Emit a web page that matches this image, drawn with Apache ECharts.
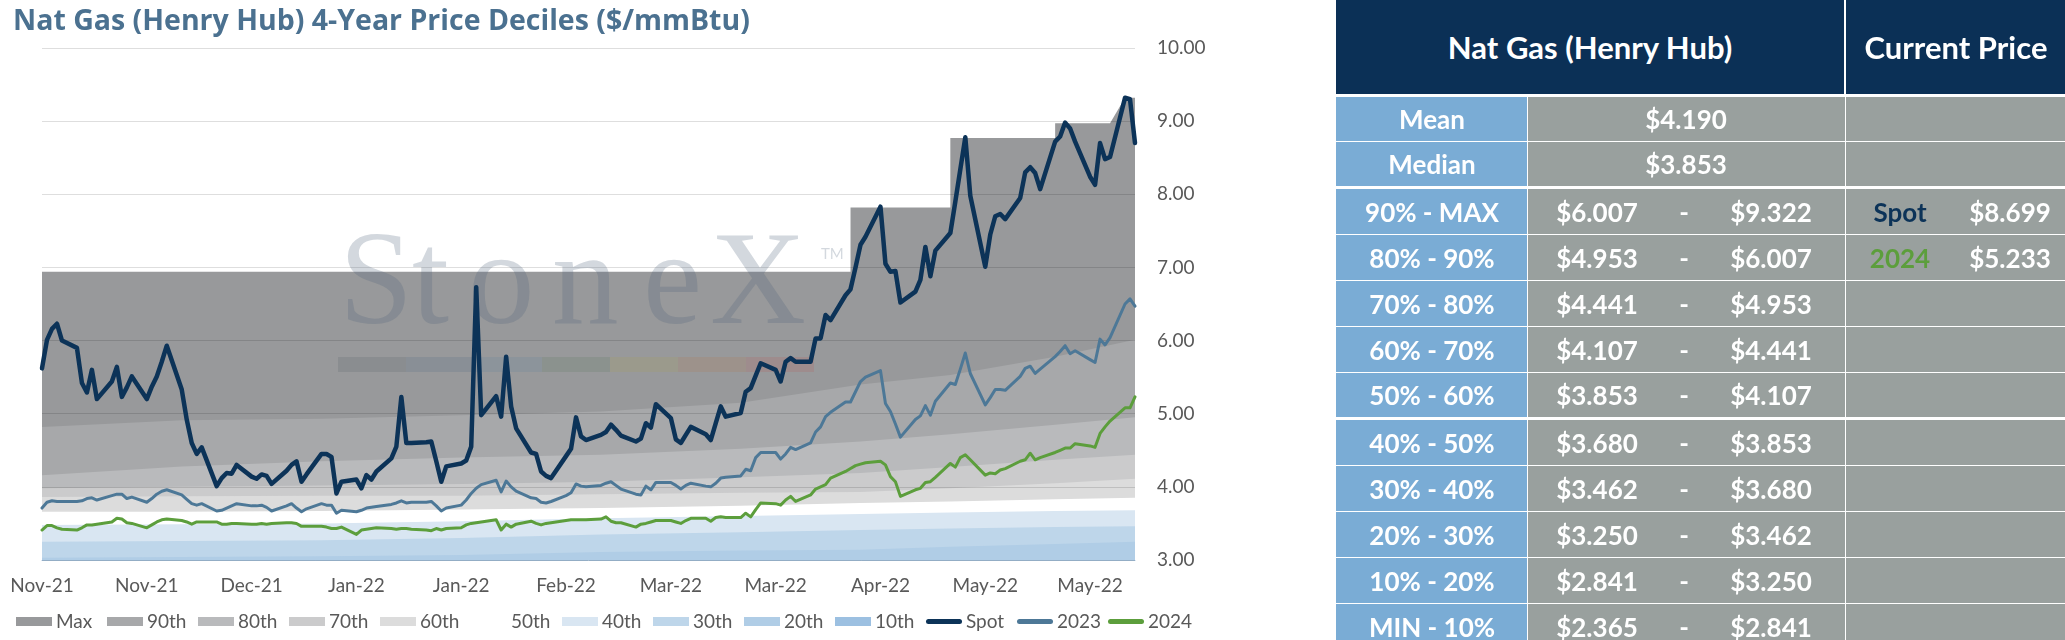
<!DOCTYPE html>
<html lang="en">
<head>
    <meta charset="UTF-8">
    <title>Nat Gas (Henry Hub) 4-Year Price Deciles</title>
    <style>
        *{
            padding: 0;
            margin: 0;
            box-sizing: border-box;
        }
        body{
            width: 2065px;
            height: 640px;
            background: #fff;
            overflow: hidden;
            font-family: Lato, "Open Sans", sans-serif;
        }
        #main{
            position: absolute;
            left: 0;
            top: 0;
            width: 2065px;
            height: 640px;
        }
        #tbl{
            position: absolute;
            left: 1336px;
            top: 0;
            width: 729px;
            height: 640px;
            overflow: hidden;
        }
        .cell{
            position: absolute;
            color: #fff;
        }
        .cell span{
            position: absolute;
            top: 50%;
            transform: translate(-50%, -50%);
            white-space: nowrap;
        }
        .head{
            background: #0b3056;
            font-size: 31px;
            font-weight: bold;
        }
        .lab{
            background: #7aacd5;
            font-size: 26px;
            font-weight: bold;
        }
        .val{
            background: #99a09e;
            font-size: 26px;
            font-weight: bold;
        }
    </style>
</head>
<body>
<div id="main"></div>
<div id="tbl"></div>
<script src="https://cdn.jsdelivr.net/npm/echarts@6/dist/echarts.min.js"></script>
<script type="text/javascript">
    // ---- data ----
    var xLabels = ['Nov-21', 'Nov-21', 'Dec-21', 'Jan-22', 'Jan-22', 'Feb-22', 'Mar-22', 'Mar-22', 'Apr-22', 'May-22', 'May-22'];
    var labelStep = 21;      // days between axis labels
    var lastDay = 219;       // 1 Nov 2021 -> 8 Jun 2022

    // daily closes, Mon-Fri only
    var spot = [
        5.62, 6.01, 6.16, 6.23, 6.00,  5.90, 5.42, 5.29, 5.60, 5.20,  5.44, 5.64, 5.23, 5.36, 5.51,
        5.20, 5.37, 5.51, 5.71, 5.93,  5.33, 4.92, 4.60, 4.45, 4.54,  4.01, 4.12, 4.19, 4.18, 4.30,
        4.14, 4.11, 4.17, 4.15, 4.04,  4.22, 4.30, 4.35, 4.07, 4.17,  4.45, 4.45, 4.41, 3.91, 4.07,
        4.10, 3.98, 4.16, 4.10, 4.21,  4.39, 4.55, 5.23, 4.60, 4.60,  4.61, 4.62, 4.35, 4.07, 4.28,
        4.32, 4.36, 4.55, 6.73, 4.98,  5.24, 4.96, 5.78, 5.10, 4.80,  4.47, 4.45, 4.21, 4.15, 4.12,
        4.42, 4.52, 4.95, 4.69, 4.64,  4.71, 4.75, 4.85, 4.78, 4.70,  4.62, 4.66, 4.87, 4.81, 5.13,
        4.94, 4.65, 4.60, 4.71, 4.82,  4.72, 4.64, 4.87, 5.10, 4.96,  5.01, 5.30, 5.35, 5.52, 5.69,
        5.60, 5.44, 5.71, 5.76, 5.71,  5.71, 6.03, 6.03, 6.35, 6.28,  6.62, 6.70, 7.00, 7.31, 7.42,
        7.83, 7.05, 6.94, 6.95, 6.52,  6.67, 6.83, 7.28, 6.88, 7.23,  7.47, 7.90, 8.34, 8.78, 7.98,
        7.01, 7.45, 7.70, 7.73, 7.66,  7.95, 8.30, 8.37, 8.29, 8.07,  8.72, 8.79, 8.98, 8.90, 8.72,
        8.24, 8.13, 8.70, 8.48, 8.51,  9.32, 9.30, 8.70
    ];
    var cal2023 = [
        3.71, 3.79, 3.81, 3.80, 3.80,  3.80, 3.81, 3.84, 3.85, 3.82,  3.88, 3.90, 3.90, 3.84, 3.86,
        3.79, 3.84, 3.90, 3.94, 3.96,  3.89, 3.83, 3.77, 3.75, 3.77,  3.67, 3.68, 3.71, 3.74, 3.77,
        3.74, 3.74, 3.75, 3.72, 3.67,  3.74, 3.77, 3.71, 3.66, 3.70,  3.77, 3.75, 3.75, 3.64, 3.68,
        3.66, 3.68, 3.71, 3.72, 3.73,  3.76, 3.78, 3.81, 3.78, 3.79,  3.79, 3.80, 3.74, 3.67, 3.71,
        3.75, 3.82, 3.91, 3.98, 4.03,  4.09, 3.93, 4.08, 4.00, 3.94,  3.85, 3.84, 3.79, 3.78, 3.80,
        3.88, 3.92, 4.04, 4.01, 4.00,  4.02, 4.05, 4.07, 4.02, 3.97,  3.90, 3.89, 4.01, 3.96, 4.06,
        4.06, 4.02, 3.97, 4.02, 4.05,  4.01, 4.00, 4.05, 4.12, 4.13,  4.15, 4.24, 4.22, 4.40, 4.47,
        4.47, 4.38, 4.45, 4.54, 4.51,  4.60, 4.75, 4.82, 4.96, 5.02,  5.16, 5.16, 5.30, 5.44, 5.50,
        5.59, 5.14, 5.03, 4.86, 4.68,  4.92, 4.97, 5.11, 4.98, 5.17,  5.42, 5.40, 5.61, 5.83, 5.55,
        5.12, 5.22, 5.33, 5.33, 5.32,  5.51, 5.62, 5.65, 5.55, 5.61,  5.78, 5.85, 5.93, 5.82, 5.86,
        5.74, 5.70, 6.02, 5.94, 6.04,  6.50, 6.57, 6.47
    ];
    var cal2024 = [
        3.41, 3.47, 3.47, 3.44, 3.42,  3.41, 3.44, 3.48, 3.48, 3.49,  3.52, 3.57, 3.56, 3.51, 3.50,
        3.44, 3.48, 3.52, 3.55, 3.56,  3.54, 3.52, 3.49, 3.52, 3.52,  3.52, 3.49, 3.49, 3.50, 3.50,
        3.49, 3.49, 3.50, 3.49, 3.50,  3.51, 3.51, 3.50, 3.46, 3.46,  3.46, 3.45, 3.43, 3.43, 3.45,
        3.35, 3.41, 3.42, 3.43, 3.44,  3.43, 3.42, 3.43, 3.43, 3.42,  3.41, 3.40, 3.43, 3.41, 3.43,
        3.44, 3.48, 3.50, 3.51, 3.52,  3.55, 3.41, 3.49, 3.45, 3.49,  3.53, 3.50, 3.48, 3.50, 3.51,
        3.54, 3.55, 3.55, 3.55, 3.55,  3.56, 3.59, 3.53, 3.51, 3.51,  3.45, 3.49, 3.50, 3.52, 3.54,
        3.54, 3.52, 3.50, 3.54, 3.57,  3.57, 3.53, 3.58, 3.59, 3.58,  3.58, 3.64, 3.59, 3.69, 3.78,
        3.77, 3.75, 3.82, 3.87, 3.80,  3.89, 3.97, 4.00, 4.03, 4.12,  4.21, 4.25, 4.29, 4.31, 4.33,
        4.35, 4.30, 4.14, 4.07, 3.87,  3.96, 3.98, 4.06, 4.07, 4.13,  4.32, 4.27, 4.40, 4.44, 4.37,
        4.16, 4.19, 4.18, 4.23, 4.25,  4.35, 4.37, 4.46, 4.37, 4.40,  4.47, 4.50, 4.53, 4.53, 4.59,
        4.56, 4.54, 4.73, 4.82, 4.90,  5.08, 5.08, 5.23
    ];

    // 4-year decile bands (upper edge of each band)
    var maxDays = [0, 162, 162, 182, 182, 203, 203, 214, 217, 219];
    var maxVals = [6.94, 6.94, 7.82, 7.82, 8.77, 8.77, 8.97, 8.97, 9.32, 9.32];
    var bandDays = [0, 28, 56, 84, 112, 140, 164, 182, 203, 219];
    var p90 = [4.82, 4.91, 4.93, 4.98, 5.03, 5.15, 5.40, 5.53, 5.78, 6.01];
    var p80 = [4.16, 4.28, 4.35, 4.40, 4.44, 4.52, 4.62, 4.72, 4.85, 4.95];
    var p70 = [3.98, 4.00, 4.02, 4.04, 4.07, 4.13, 4.19, 4.27, 4.37, 4.44];
    var p60 = [3.86, 3.87, 3.88, 3.88, 3.90, 3.92, 3.93, 3.98, 4.05, 4.11];
    var p50 = [3.66, 3.66, 3.67, 3.69, 3.71, 3.74, 3.78, 3.80, 3.83, 3.85];
    var p40 = [3.48, 3.49, 3.50, 3.53, 3.57, 3.60, 3.63, 3.65, 3.67, 3.68];
    var p30 = [3.25, 3.26, 3.27, 3.30, 3.35, 3.38, 3.41, 3.43, 3.45, 3.46];
    var p20 = [3.03, 3.04, 3.05, 3.07, 3.11, 3.13, 3.14, 3.18, 3.22, 3.25];
    var p10 = [2.60, 2.62, 2.64, 2.66, 2.70, 2.74, 2.77, 2.80, 2.82, 2.84];

    // table
    var tblTitle = 'Nat Gas (Henry Hub)';
    var curTitle = 'Current Price';
    var meanVal = '$4.190';
    var medianVal = '$3.853';
    var rangeLabels = ['90% - MAX', '80% - 90%', '70% - 80%', '60% - 70%', '50% - 60%',
        '40% - 50%', '30% - 40%', '20% - 30%', '10% - 20%', 'MIN - 10%'];
    var rangeLow = ['$6.007', '$4.953', '$4.441', '$4.107', '$3.853', '$3.680', '$3.462', '$3.250', '$2.841', '$2.365'];
    var rangeHigh = ['$9.322', '$6.007', '$4.953', '$4.441', '$4.107', '$3.853', '$3.680', '$3.462', '$3.250', '$2.841'];
    var curNames = ['Spot', '2024'];
    var curVals = ['$8.699', '$5.233'];

    // ---- chart ----
    var NAVY = '#0c3358', STEEL = '#4d7897', GREEN = '#5c9e3c', GREY_TXT = '#595959';

    var weekdays = [];
    for (var d = 0; d <= lastDay; d++) {
        if (d % 7 < 5) weekdays.push(d);   // day 0 is a Monday
    }
    function pairs(xs, ys) {
        return xs.map(function (x, k) { return [x, ys[k]]; });
    }

    var bands = [
        {name: 'Max', color: '#98999b', days: maxDays, vals: maxVals},
        {name: '90th', color: '#a7a8aa', days: bandDays, vals: p90},
        {name: '80th', color: '#b9babc', days: bandDays, vals: p80},
        {name: '70th', color: '#cbcbcc', days: bandDays, vals: p70},
        {name: '60th', color: '#dcdcdc', days: bandDays, vals: p60},
        {name: '50th', color: '#ffffff', days: bandDays, vals: p50},
        {name: '40th', color: '#d9e6f2', days: bandDays, vals: p40},
        {name: '30th', color: '#bed6ea', days: bandDays, vals: p30},
        {name: '20th', color: '#b0cde6', days: bandDays, vals: p20},
        {name: '10th', color: '#9cc0e1', days: bandDays, vals: p10}
    ];
    var lines = [
        {name: 'Spot', color: NAVY, width: 4.5, vals: spot},
        {name: '2023', color: STEEL, width: 3, vals: cal2023},
        {name: '2024', color: GREEN, width: 3, vals: cal2024}
    ];

    var series = [];
    bands.forEach(function (b) {
        series.push({
            name: b.name,
            type: 'line',
            data: pairs(b.days, b.vals),
            symbol: 'none',
            silent: true,
            z: 2,
            itemStyle: {color: b.color},
            lineStyle: {width: 0, color: b.color},
            areaStyle: {color: b.color, opacity: 1, origin: 'start'}
        });
    });
    lines.forEach(function (l) {
        series.push({
            name: l.name,
            type: 'line',
            data: pairs(weekdays, l.vals),
            symbol: 'none',
            silent: true,
            z: 10,
            itemStyle: {color: l.color},
            lineStyle: {width: l.width, color: l.color, join: 'round', cap: 'round'}
        });
    });

    // one legend block per entry so every entry gets the same pitch
    var LINE_ICON = 'path://M2.5,0H33.5A2.5,2.5,0,0,1,33.5,5H2.5A2.5,2.5,0,0,1,2.5,0Z';
    var legendItems = bands.map(function (b) { return {name: b.name, icon: 'rect'}; })
        .concat(lines.map(function (l) { return {name: l.name, icon: LINE_ICON}; }));
    var legends = legendItems.map(function (item, k) {
        return {
            left: 16 + k * 91,
            top: 612,
            itemWidth: 36,
            itemHeight: 9,
            itemGap: 0,
            padding: 0,
            selectedMode: false,
            textStyle: {fontSize: 19, color: GREY_TXT, fontFamily: 'Lato', padding: [0, 0, 0, -1]},
            data: [item]
        };
    });

    // StoneX watermark
    var wmLetters = ['S', 't', 'o', 'n', 'e', 'X'];
    var wmLeft = [339, 412, 468, 552, 643, 710];
    var barColors = ['#8a8d90', '#898f96', '#8c949b', '#8b928e', '#9b9a8c', '#9d928b', '#9e8c8d'];
    var wm = [];
    wmLetters.forEach(function (ch, k) {
        wm.push({
            type: 'text', z: 5, silent: true,
            left: wmLeft[k], top: 222,
            style: {text: ch, font: '133px "Liberation Serif", serif', fill: 'rgba(80,100,122,0.25)'}
        });
    });
    wm.push({
        type: 'text', z: 5, silent: true, left: 821, top: 247,
        style: {text: 'TM', font: '15px Lato, sans-serif', fill: 'rgba(80,100,122,0.25)'}
    });
    barColors.forEach(function (c, k) {
        wm.push({
            type: 'rect', z: 5, silent: true,
            shape: {x: 338 + k * 68, y: 357, width: 68, height: 15},
            style: {fill: c}
        });
    });

    var myChart = echarts.init(document.getElementById('main'));
    myChart.setOption({
        animation: false,
        backgroundColor: '#fff',
        title: {
            text: 'Nat Gas (Henry Hub) 4-Year Price Deciles ($/mmBtu)',
            left: 8,
            top: 2,
            textStyle: {fontSize: 28.5, fontWeight: 'bold', color: '#4b7190', fontFamily: 'Open Sans'}
        },
        grid: {left: 42, right: 930, top: 48, bottom: 80},
        legend: legends,
        xAxis: {
            type: 'value',
            min: 0,
            max: lastDay,
            interval: labelStep,
            axisLine: {lineStyle: {color: '#a9c7e3'}},
            axisTick: {show: false},
            splitLine: {show: false},
            axisLabel: {
                fontSize: 19,
                color: GREY_TXT,
                fontFamily: 'Lato',
                margin: 16,
                showMaxLabel: false,
                formatter: function (v) {
                    var k = v / labelStep;
                    return (k === Math.floor(k) && xLabels[k]) ? xLabels[k] : '';
                }
            }
        },
        yAxis: {
            type: 'value',
            position: 'right',
            min: 3,
            max: 10,
            interval: 1,
            z: 3,
            axisLine: {show: false},
            axisTick: {show: false},
            splitLine: {lineStyle: {color: 'rgba(0,0,0,0.13)', width: 1}},
            axisLabel: {
                fontSize: 19,
                color: GREY_TXT,
                fontFamily: 'Lato',
                margin: 22,
                formatter: function (v) { return v.toFixed(2); }
            }
        },
        graphic: {elements: wm},
        series: series
    });

    // ---- table ----
    var tbl = document.getElementById('tbl');
    var COL = {lab: [0, 191], val: [192, 317], cur: [510, 219]};
    var rowTops = [97, 142, 189, 235, 281, 327, 373, 420, 466, 512, 558, 604];
    var rowH = [44, 44, 45, 45, 45, 45, 44, 45, 45, 45, 45, 45];

    function cell(cls, x, y, w, h, spans) {
        var div = document.createElement('div');
        div.className = 'cell ' + cls;
        div.style.left = x + 'px';
        div.style.top = y + 'px';
        div.style.width = w + 'px';
        div.style.height = h + 'px';
        spans.forEach(function (s) {
            var sp = document.createElement('span');
            sp.textContent = s.t;
            sp.style.left = s.x + 'px';
            if (s.c) sp.style.color = s.c;
            div.appendChild(sp);
        });
        tbl.appendChild(div);
    }

    cell('head', 0, 0, 508, 94, [{t: tblTitle, x: 254}]);
    cell('head', 510, 0, 219, 94, [{t: curTitle, x: 110}]);

    var rowNames = ['Mean', 'Median'].concat(rangeLabels);
    rowNames.forEach(function (name, r) {
        var y = rowTops[r], h = rowH[r];
        cell('lab', COL.lab[0], y, COL.lab[1], h, [{t: name, x: 96}]);
        if (r < 2) {
            cell('val', COL.val[0], y, COL.val[1], h, [{t: r === 0 ? meanVal : medianVal, x: 158}]);
        } else {
            var k = r - 2;
            cell('val', COL.val[0], y, COL.val[1], h, [
                {t: rangeLow[k], x: 69}, {t: '-', x: 156}, {t: rangeHigh[k], x: 243}
            ]);
        }
        var cur = [];
        if (r === 2 || r === 3) {
            var j = r - 2;
            cur = [{t: curNames[j], x: 54, c: j === 0 ? NAVY : GREEN}, {t: curVals[j], x: 164}];
        }
        cell('val', COL.cur[0], y, COL.cur[1], h, cur);
    });
</script>
</body>
</html>
